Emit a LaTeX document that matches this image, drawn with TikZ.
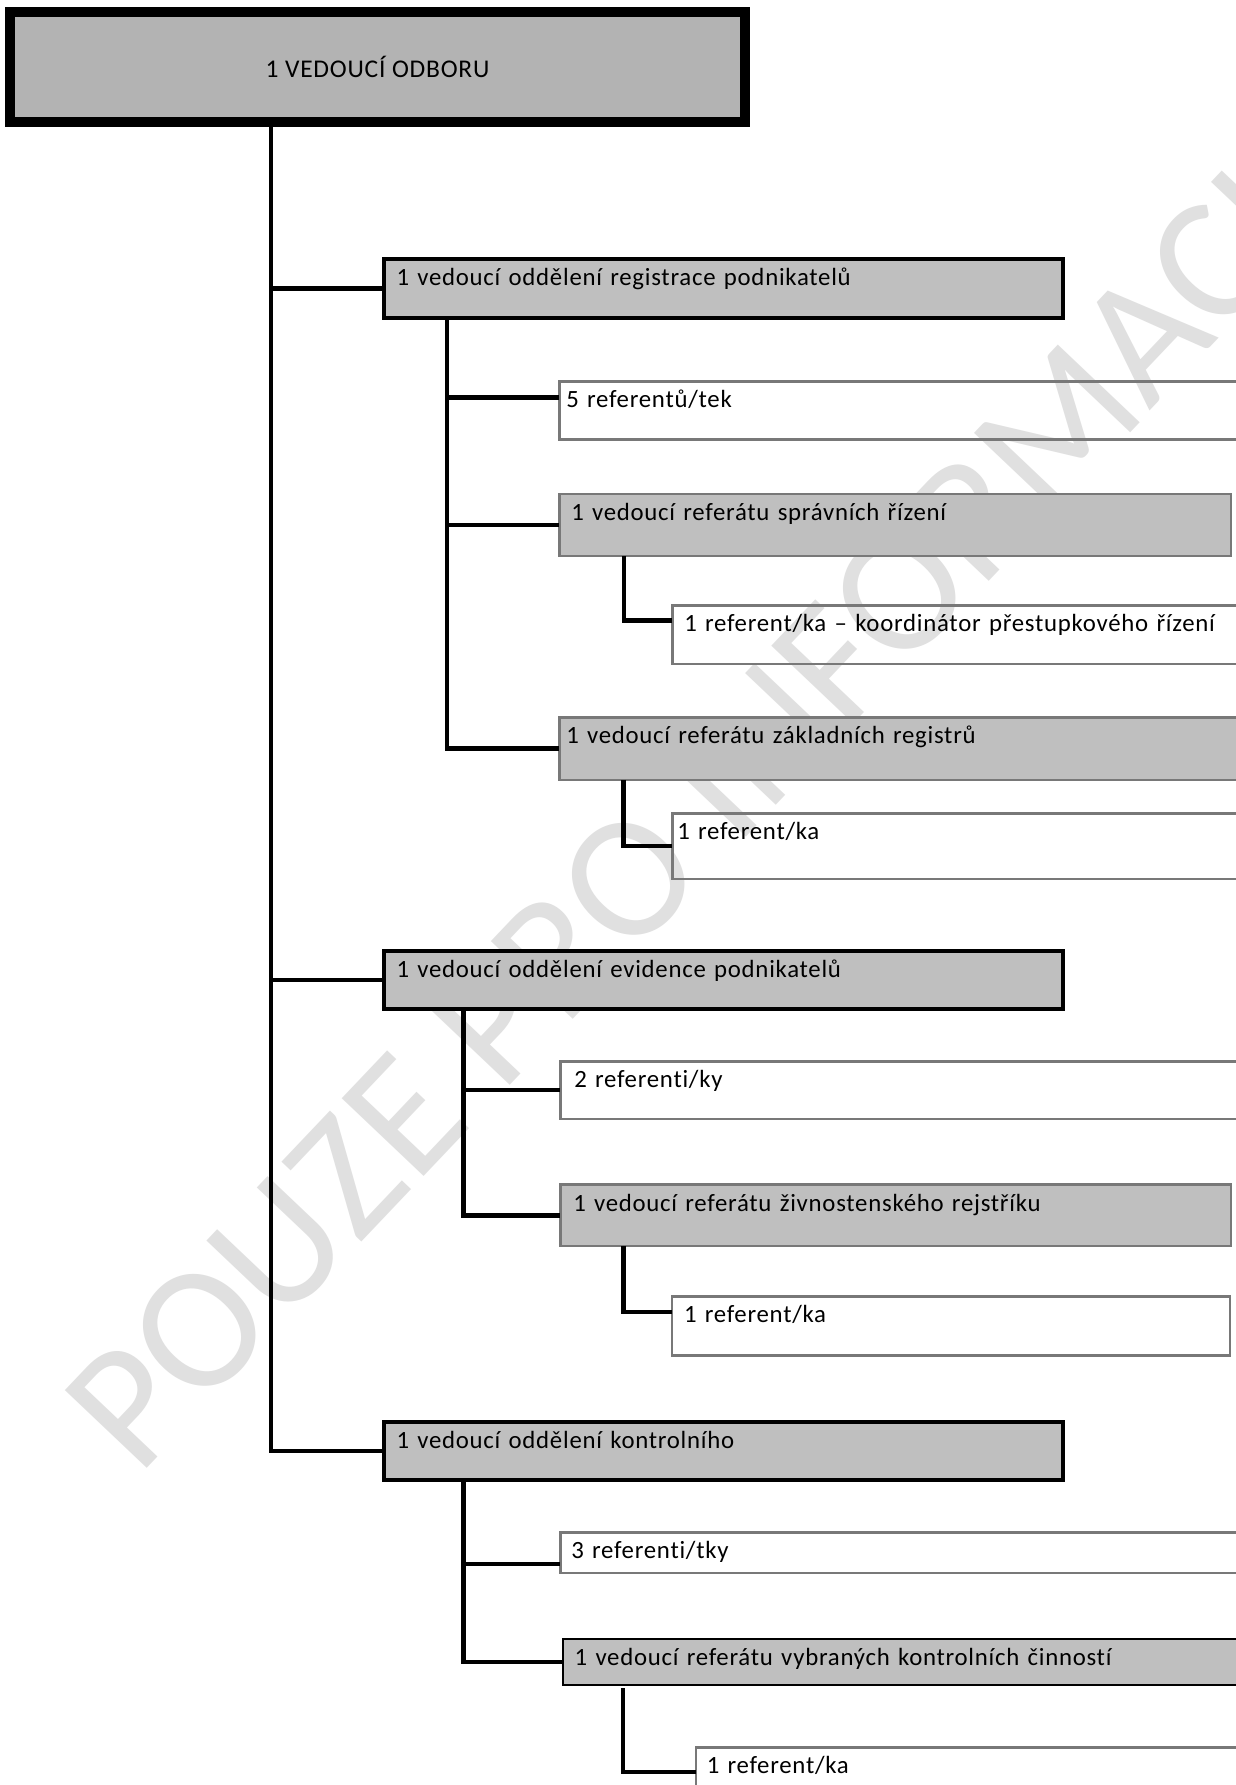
\documentclass[tikz,border=0pt]{standalone}
\usepackage{fontspec}
\setmainfont{Carlito}[Ligatures=NoCommon, LetterSpace=3]
\newfontfamily\markfont{Carlito}
\usetikzlibrary{calc}

\definecolor{headfill}{RGB}{179,179,179}
\definecolor{boxfill}{RGB}{191,191,191}
\definecolor{thinedge}{RGB}{120,120,120}
\definecolor{wmgray}{RGB}{224,224,224}

\newcommand{\bodyfont}{\fontsize{24.8}{28}\selectfont}

\tikzset{
  x=1pt, y=-1pt,
  conn/.style={line width=4.5pt, black, line join=miter},
  orgbox/.style={rectangle, anchor=north west, outer sep=0pt, inner ysep=0pt,
    align=left, text height=26.5pt, font=\bodyfont},
  headbox/.style={rectangle, anchor=north west, outer sep=0pt, inner sep=0pt,
    draw=black, line width=10pt, fill=headfill,
    font=\fontsize{25.5}{30}\selectfont},
  deptbox/.style={orgbox, draw=black, line width=4pt, fill=boxfill},
  leadbox/.style={orgbox, draw=thinedge, line width=2.5pt, fill=boxfill},
  leadboxdark/.style={orgbox, draw=black, line width=2pt, fill=boxfill},
  staffbox/.style={orgbox, draw=thinedge, line width=2.5pt},
}

\begin{document}
\begin{tikzpicture}
\clip (0,0) rectangle (1236,1785);
\fill[white] (0,0) rectangle (1236,1785);

% watermark
\node[anchor=base west, rotate=46.5, text=wmgray, inner sep=0pt,
  font=\markfont\fontsize{176}{176}\selectfont] (wm) at (138,1478) {POUZE PRO INFORMACI};

% head of the department
\node[headbox, minimum width=735pt, minimum height=110pt] (head) at (10,12) {1 VEDOUCÍ ODBORU};

% departments
\node[deptbox, inner xsep=12.5pt, text width=654pt, text depth=32.5pt] (r1) at (384,259)
  {1 vedoucí oddělení registrace podnikatelů};
\node[deptbox, inner xsep=12.5pt, text width=654pt, text depth=31.5pt] (r2) at (384,951)
  {1 vedoucí oddělení evidence podnikatelů};
\node[deptbox, inner xsep=12.5pt, text width=654pt, text depth=31.5pt] (r3) at (384,1422)
  {1 vedoucí oddělení kontrolního};

% registration department
\node[staffbox, inner xsep=7pt, text width=686pt, text depth=31.75pt] (a1) at (559.25,381.25)
  {5 referentů/tek};
\node[leadbox, inner xsep=12pt, text width=647.5pt, text depth=35.5pt] (a2) at (559.25,494)
  {1 vedoucí referátu správních řízení};
\node[staffbox, inner xsep=12pt, text width=564pt, text depth=32pt] (a2c) at (672.25,605.25)
  {1 referent/ka – koordinátor přestupkového řízení};
\node[leadbox, inner xsep=7pt, text width=686pt, text depth=36pt] (a3) at (559.25,717.25)
  {1 vedoucí referátu základních registrů};
\node[staffbox, inner xsep=5pt, text width=578pt, text depth=39pt] (a3c) at (672.25,813.25)
  {1 referent/ka};

% records department
\node[staffbox, inner xsep=14pt, text width=672pt, text depth=31pt] (b1) at (560.25,1061.25)
  {2 referenti/ky};
\node[leadbox, inner xsep=13pt, text width=644.5pt, text depth=35pt] (b2) at (560.25,1184.5)
  {1 vedoucí referátu živnostenského rejstříku};
\node[staffbox, inner xsep=12pt, text width=534pt, text depth=32.5pt] (b2c) at (672,1296.25)
  {1 referent/ka};

% inspection department
\node[staffbox, inner xsep=11pt, text width=678pt, text depth=14.3pt] (c1) at (560.25,1532.25)
  {3 referenti/tky};
\node[leadboxdark, inner xsep=12pt, text width=673pt, text depth=19.8pt] (c2) at (562.7,1638.7)
  {1 vedoucí referátu vybraných kontrolních činností};
\node[staffbox, inner xsep=11pt, text width=542pt, text depth=26pt] (c2c) at (695.75,1747.25)
  {1 referent/ka};

% main spine
\coordinate (spine) at ($(head.south west)+(261,0)$);
\draw[conn] (spine) |- (r3.west);
\draw[conn] (spine |- r1.west) -- (r1.west);
\draw[conn] (spine |- r2.west) -- (r2.west);

% registration department links
\coordinate (t1) at ($(r1.south west)+(63,0)$);
\coordinate (a1w) at ($(a1.north west)+(0,16)$);
\draw[conn] (t1) |- (a3.west);
\draw[conn] (t1 |- a1w) -- (a1w);
\draw[conn] (t1 |- a2.west) -- (a2.west);
\coordinate (t2) at ($(a2.south west)+(64.5,0)$);
\coordinate (a2cw) at ($(a2c.north west)+(0,15)$);
\draw[conn] (t2) |- (a2cw);
\coordinate (t3) at ($(a3.south west)+(64,0)$);
\draw[conn] (t3) |- (a3c.west);

% records department links
\coordinate (t4) at ($(r2.south west)+(79.3,0)$);
\draw[conn] (t4) |- (b2.west);
\draw[conn] (t4 |- b1.west) -- (b1.west);
\coordinate (t5) at ($(b2.south west)+(63,0)$);
\coordinate (b2cw) at ($(b2c.north west)+(0,15.5)$);
\draw[conn] (t5) |- (b2cw);

% inspection department links
\coordinate (t6) at ($(r3.south west)+(79.3,0)$);
\coordinate (c1w) at ($(c1.north west)+(0,31.8)$);
\draw[conn] (t6) |- (c2.west);
\draw[conn] (t6 |- c1w) -- (c1w);
\coordinate (t7) at ($(c2.south west)+(60.3,3)$);
\coordinate (c2cw) at ($(c2c.north west)+(0,24.5)$);
\draw[conn] (t7) |- (c2cw);
\end{tikzpicture}
\end{document}
